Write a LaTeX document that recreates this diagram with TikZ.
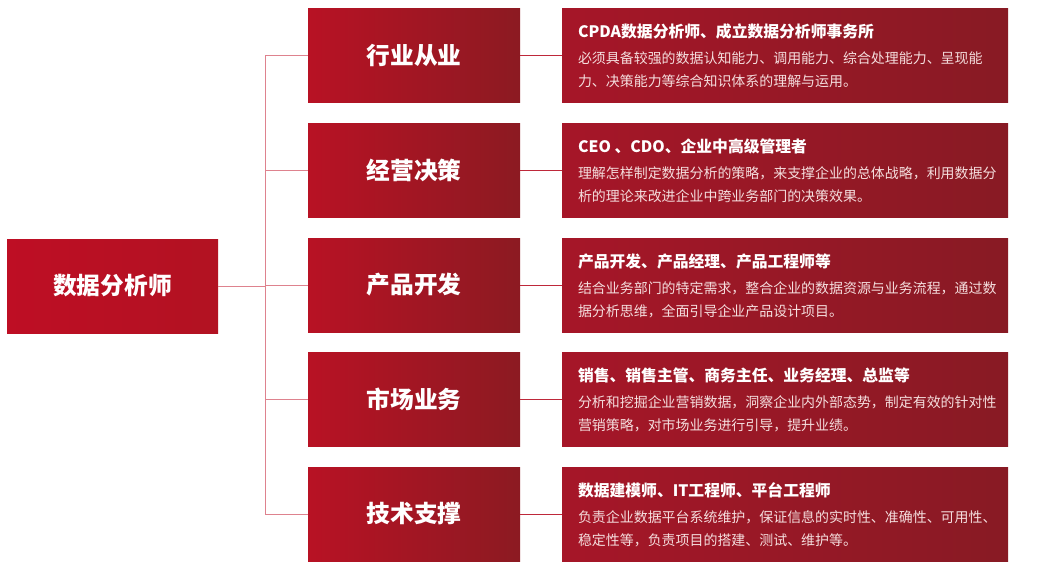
\documentclass[tikz,border=0pt]{standalone}
\usepackage{fontspec}
\newfontfamily\cjk{Noto Sans CJK SC}
\definecolor{lboxL}{RGB}{190,14,36}
\definecolor{lboxR}{RGB}{178,18,34}
\definecolor{mboxL}{RGB}{184,18,36}
\definecolor{mboxR}{RGB}{140,26,34}
\definecolor{rboxL}{RGB}{166,22,40}
\definecolor{rboxR}{RGB}{136,26,36}
\definecolor{linkA}{RGB}{222,130,142}
\definecolor{linkB}{RGB}{190,40,58}
\definecolor{bodytxt}{RGB}{245,222,222}
\begin{document}
\begin{tikzpicture}[x=1pt,y=-1pt,
  box/.style={draw=none,inner sep=0pt,minimum height=94pt},
  rootbox/.style={box,minimum width=211pt,left color=lboxL,right color=lboxR,
    text=white,font=\cjk\bfseries\fontsize{23.7}{26}\selectfont},
  midbox/.style={box,minimum width=212pt,left color=mboxL,right color=mboxR,
    text=white,font=\cjk\bfseries\fontsize{23.7}{26}\selectfont},
  rbox/.style={box,minimum width=446pt,left color=rboxL,right color=rboxR},
  rtext/.style={anchor=north west,inner sep=0pt,align=left,text=bodytxt,
    font=\cjk\fontsize{13.95}{23}\selectfont},
  link/.style={draw=linkA,line width=1pt},
  linkr/.style={draw=linkB,line width=1pt}]
\useasboundingbox (0,0) rectangle (1040,570);
\newcommand{\ttl}[1]{{\color{white}\bfseries\fontsize{15.8}{26}\selectfont #1}}

\node[rootbox] (root) at (112.5,286) {数据分析师};

\node[midbox] (m1) at (414,55) {行业从业};
\node[midbox] (m2) at (414,170) {经营决策};
\node[midbox] (m3) at (414,285) {产品开发};
\node[midbox] (m4) at (414,399) {市场业务};
\node[midbox] (m5) at (414,514) {技术支撑};

\node[rbox] (r1) at (785,55) {};
\node[rbox] (r2) at (785,170) {};
\node[rbox] (r3) at (785,285) {};
\node[rbox] (r4) at (785,399) {};
\node[rbox] (r5) at (785,514) {};

\coordinate (bus) at (265,286);
\coordinate (bt) at (265,55);
\coordinate (bb) at (265,514);
\draw[link] (bt) -- (bb);
\draw[link] (root.east) -- (bus);
\foreach \i in {1,...,5}{
  \draw[link] (m\i.west) -- (m\i.west -| bus);
  \draw[linkr] (m\i.east) -- (r\i.west);
}

\node[rtext] (t1) at ([xshift=16pt,yshift=-16pt]r1.north west)
 {\ttl{CPDA数据分析师、成立数据分析师事务所}\\[3pt]必须具备较强的数据认知能力、调用能力、综合处理能力、呈现能\\力、决策能力等综合知识体系的理解与运用。};
\node[rtext] (t2) at ([xshift=16pt,yshift=-16pt]r2.north west)
 {\ttl{CEO 、CDO、企业中高级管理者}\\[3pt]理解怎样制定数据分析的策略，来支撑企业的总体战略，利用数据分\\析的理论来改进企业中跨业务部门的决策效果。};
\node[rtext] (t3) at ([xshift=16pt,yshift=-16pt]r3.north west)
 {\ttl{产品开发、产品经理、产品工程师等}\\[3pt]结合业务部门的特定需求，整合企业的数据资源与业务流程，通过数\\据分析思维，全面引导企业产品设计项目。};
\node[rtext] (t4) at ([xshift=16pt,yshift=-16pt]r4.north west)
 {\ttl{销售、销售主管、商务主任、业务经理、总监等}\\[3pt]分析和挖掘企业营销数据，洞察企业内外部态势，制定有效的针对性\\营销策略，对市场业务进行引导，提升业绩。};
\node[rtext] (t5) at ([xshift=16pt,yshift=-16pt]r5.north west)
 {\ttl{数据建模师、IT工程师、平台工程师}\\[3pt]负责企业数据平台系统维护，保证信息的实时性、准确性、可用性、\\稳定性等，负责项目的搭建、测试、维护等。};
\end{tikzpicture}
\end{document}
